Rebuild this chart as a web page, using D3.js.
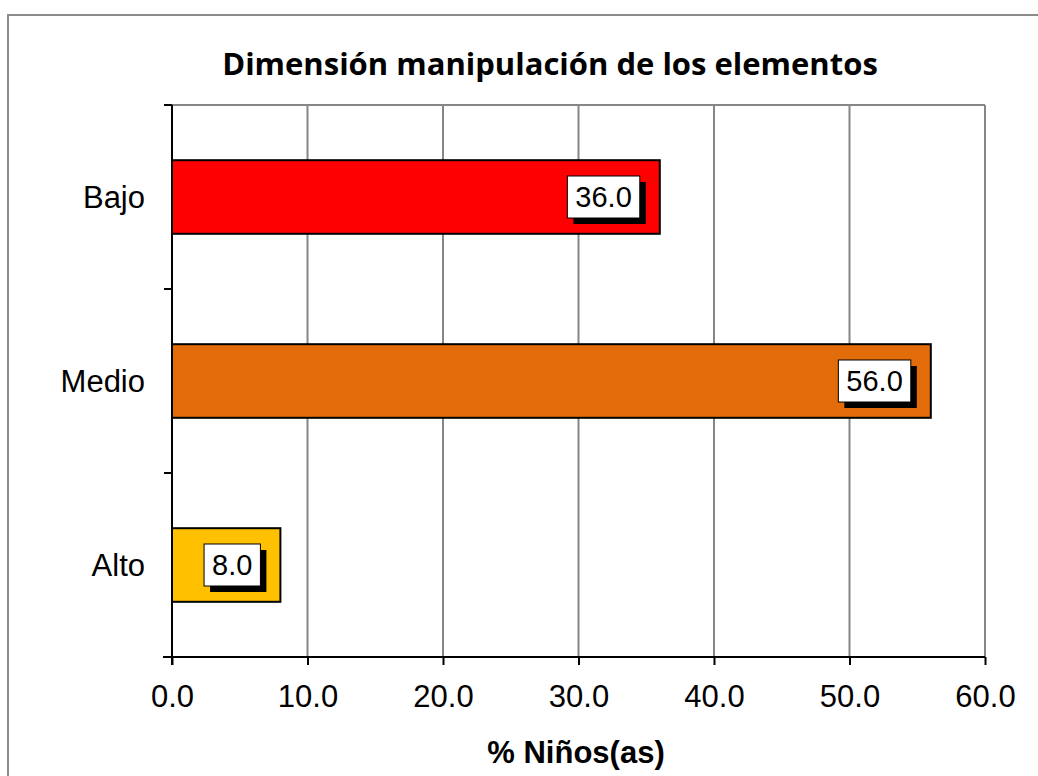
<!DOCTYPE html>
<html>
<head>
<meta charset="utf-8">
<script src="https://cdn.jsdelivr.net/npm/d3@7"></script>
<style>
  body { margin: 0; background: #fff; }
  text { font-family: "Liberation Sans", Arial, sans-serif; }
</style>
</head>
<body>
<script>
// datos del gráfico
const categorias = ['Bajo', 'Medio', 'Alto'];
const valores = [36.0, 56.0, 8.0];
const colores = ['#ff0000', '#e36c0a', '#ffc000'];
const ticksX = [0, 10, 20, 30, 40, 50, 60];

const W = 1038, H = 776;
const margin = { left: 172, right: 53, top: 105, bottom: 119 };

const svg = d3.select('body').append('svg')
  .attr('width', W)
  .attr('height', H);

// borde exterior del gráfico
svg.append('rect')
  .attr('x', 8).attr('y', 15)
  .attr('width', 1060).attr('height', 800)
  .attr('fill', '#fff')
  .attr('stroke', '#8c8c8c')
  .attr('stroke-width', 2);

const x = d3.scaleLinear().domain([0, 60]).range([margin.left, W - margin.right]);
const y = d3.scaleBand().domain(categorias).range([margin.top, H - margin.bottom]);

// líneas de cuadrícula
svg.append('g').selectAll('line')
  .data(ticksX.slice(1))
  .enter().append('line')
  .attr('x1', d => x(d)).attr('x2', d => x(d))
  .attr('y1', margin.top).attr('y2', H - margin.bottom)
  .attr('stroke', '#868686')
  .attr('stroke-width', 2);

// borde superior del área de trazado
svg.append('line')
  .attr('x1', x(0)).attr('x2', x(60))
  .attr('y1', margin.top).attr('y2', margin.top)
  .attr('stroke', '#868686').attr('stroke-width', 2);

// barras
const altoBarra = y.bandwidth() * 0.4;
svg.append('g').selectAll('rect')
  .data(valores)
  .enter().append('rect')
  .attr('x', x(0))
  .attr('y', (d, i) => y(categorias[i]) + (y.bandwidth() - altoBarra) / 2)
  .attr('width', d => x(d) - x(0))
  .attr('height', altoBarra)
  .attr('fill', (d, i) => colores[i])
  .attr('stroke', '#000')
  .attr('stroke-width', 2);

// eje x
const ejeX = svg.append('g')
  .attr('transform', `translate(0,${H - margin.bottom})`)
  .call(d3.axisBottom(x).tickValues(ticksX).tickFormat(d3.format('.1f')).tickSize(8).tickPadding(20));
ejeX.select('.domain').attr('stroke', '#000').attr('stroke-width', 2).attr('d', `M${x(0) - 9},0H${x(60)}`);
ejeX.selectAll('.tick line').attr('stroke', '#000').attr('stroke-width', 2);
ejeX.selectAll('.tick text')
  .attr('fill', '#000')
  .style('font-size', '31px')
  .style('font-family', '"Liberation Sans", Arial, sans-serif');

// eje y
const ejeY = svg.append('g').attr('transform', `translate(${x(0)},0)`);
ejeY.append('line')
  .attr('x1', 0).attr('x2', 0)
  .attr('y1', margin.top).attr('y2', H - margin.bottom + 8)
  .attr('stroke', '#000').attr('stroke-width', 2);
const bordes = categorias.map(c => y(c)).concat([H - margin.bottom]);
ejeY.selectAll('.tk')
  .data(bordes)
  .enter().append('line')
  .attr('x1', -8).attr('x2', 0)
  .attr('y1', d => d).attr('y2', d => d)
  .attr('stroke', '#000').attr('stroke-width', 2);
ejeY.selectAll('.cat')
  .data(categorias)
  .enter().append('text')
  .attr('x', -27)
  .attr('y', d => y(d) + y.bandwidth() / 2)
  .attr('dy', '0.35em')
  .attr('text-anchor', 'end')
  .style('font-size', '31px')
  .text(d => d);

// etiquetas de datos con sombra
const etiquetas = svg.append('g').selectAll('g')
  .data(valores)
  .enter().append('g');
etiquetas.each(function(d, i) {
  const g = d3.select(this);
  const cy = y(categorias[i]) + y.bandwidth() / 2;
  const sombra = g.append('rect');
  const caja = g.append('rect');
  const t = g.append('text')
    .attr('text-anchor', 'middle')
    .attr('dy', '0.36em')
    .style('font-size', '29px')
    .text(d3.format('.1f')(d));
  const w = t.node().getComputedTextLength() + 16;
  const h = 42;
  const xDer = x(d) - 20;
  const cx = xDer - w / 2;
  t.attr('x', cx).attr('y', cy);
  sombra.attr('x', cx - w / 2 + 6).attr('y', cy - h / 2 + 6)
    .attr('width', w).attr('height', h).attr('fill', '#000');
  caja.attr('x', cx - w / 2).attr('y', cy - h / 2)
    .attr('width', w).attr('height', h)
    .attr('fill', '#fff').attr('stroke', '#000').attr('stroke-width', 1);
});

// títulos
svg.append('text')
  .attr('x', 550).attr('y', 75)
  .attr('text-anchor', 'middle')
  .style('font-family', '"Open Sans", "Noto Sans", sans-serif')
  .style('font-weight', 'bold')
  .style('font-size', '31px')
  .text('Dimensión manipulación de los elementos');

svg.append('text')
  .attr('x', 576).attr('y', 763)
  .attr('text-anchor', 'middle')
  .style('font-weight', 'bold')
  .style('font-size', '31px')
  .text('% Niños(as)');
</script>
</body>
</html>
